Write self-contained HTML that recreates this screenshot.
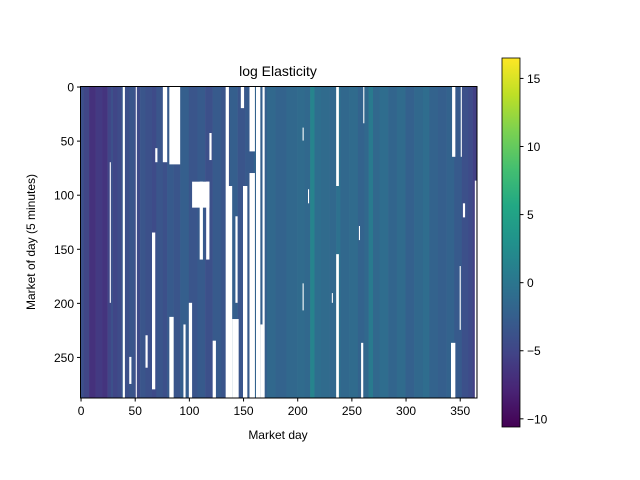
<!DOCTYPE html>
<html><head><meta charset="utf-8"><style>
body{margin:0;background:#fff;}
svg{display:block;font-family:"Liberation Sans","DejaVu Sans",sans-serif;}
</style></head><body>
<svg id="chart" width="640" height="480" xmlns="http://www.w3.org/2000/svg">
<defs>
<linearGradient id="vir" x1="0" y1="1" x2="0" y2="0">
<stop offset="0" stop-color="#440154"/><stop offset="0.1" stop-color="#482475"/><stop offset="0.2" stop-color="#414487"/><stop offset="0.3" stop-color="#355f8d"/><stop offset="0.4" stop-color="#2a788e"/><stop offset="0.5" stop-color="#21918c"/><stop offset="0.6" stop-color="#22a884"/><stop offset="0.7" stop-color="#44bf70"/><stop offset="0.8" stop-color="#7ad151"/><stop offset="0.9" stop-color="#bddf26"/><stop offset="1" stop-color="#fde725"/>
</linearGradient>
</defs>
<g id="cells"></g>
<g id="gaps"></g>
<rect x="80.5" y="86.5" width="396.5" height="311.5" fill="none" stroke="#000" stroke-width="1"/>
<g id="axes"></g>
<text x="278" y="76" font-size="14" text-anchor="middle">log Elasticity</text>
<text x="278" y="439" font-size="12" text-anchor="middle">Market day</text>
<text x="35" y="242" font-size="12" text-anchor="middle" transform="rotate(-90 35 242)">Market of day (5 minutes)</text>
<rect x="502" y="58" width="18" height="369" fill="url(#vir)" stroke="#000" stroke-width="0.8"/>
<g id="cbticks"></g>
</svg>
<script>
// column band data: start day, mean log elasticity
const bandStarts = [0,3,8,14,20,25,28,30,34,38,41,45,50,55,60,66,70,76,80,86,92,100,108,115,122,130,138,145,152,160,166,172,180,190,200,207,212,216,222,230,236,240,248,256,262,266,270,276,284,292,300,308,316,322,330,338,345,352,358,362];
const bandValues = [-4,-5,-6.8,-6,-6.5,-5,-4,-5,-4.5,-3,-4,-3.5,-4.5,-3.5,-4,-4.5,-3.5,-4,-3,-3.5,-2.5,-3.5,-3,-4,-3,-3.5,-2.5,-3.5,-3,-2,-2.5,-1.5,-2,-1.5,-1.2,-1.5,1.5,-0.8,-1.2,-1.5,-0.5,-1.5,-1.2,-2,-1.5,0.5,-1.5,-1,-1.8,-1.2,-2.2,-1.5,-1,-2,-2.5,-2,-3,-4,-4.5,-5.5];
// missing-data rectangles: [dayStart, dayEnd, rowStart, rowEnd]
const gapDays0 = [27,39,51,66,69,76,82,82,86,103,110,116,119,134,136,148,150,156,156,162,168,166,205,205,210,232,236,236,257,259,261,343,342,351,353,350,364,95,100,122,140,143,60,45];
const gapDays1 = [28,41,52,69,71,80,92,86,90,119,113,119,121,137,140,151,154,161,161,166,170,168,206,206,211,233,238.5,238.5,258,261,262,346,346,352,355,351,365.5,97,103,125,146,145,62,47];
const gapRows0 = [70,0,0,135,57,0,0,213,0,88,88,88,43,0,92,0,92,0,80,0,0,220,38,182,95,191,0,155,129,237,0,0,237,0,108,166,87,220,200,235,215,120,230,250];
const gapRows1 = [200,288,288,280,70,70,72,288,16,112,160,160,68,288,288,20,288,60,288,288,288,288,50,207,108,200,92,288,142,288,34,65,288,65,121,225,288,288,288,288,288,200,260,275];
const vmin=-10.6, vmax=16.5;
const x0=80.5, y0=86.5, W=396.5, H=311.5, nD=366, nR=288;
const xs=d=>x0+d*W/nD, ys=r=>y0+r*H/nR;
const stops=[[68,1,84],[72,36,117],[65,68,135],[53,95,141],[42,120,142],[33,145,140],[34,168,132],[68,191,112],[122,209,81],[189,223,38],[253,231,37]];
function vir(v){let t=(v-vmin)/(vmax-vmin);t=Math.max(0,Math.min(1,t))*10;const i=Math.min(9,Math.floor(t)),f=t-i;const a=stops[i],b=stops[i+1];return 'rgb('+a.map((c,k)=>Math.round(c+(b[k]-c)*f)).join(',')+')';}
const NS='http://www.w3.org/2000/svg';
const cells=document.getElementById('cells');
for(let i=0;i<bandStarts.length;i++){
  const s=bandStarts[i], e=i+1<bandStarts.length?bandStarts[i+1]:nD;
  const r=document.createElementNS(NS,'rect');
  r.setAttribute('x',xs(s));r.setAttribute('y',ys(0));
  r.setAttribute('width',xs(e)-xs(s)+0.3);r.setAttribute('height',H);
  r.setAttribute('fill',vir(bandValues[i]));
  
  
  cells.appendChild(r);
}
const gaps=document.getElementById('gaps');
for(let i=0;i<gapDays0.length;i++){
  const r=document.createElementNS(NS,'rect');
  r.setAttribute('x',xs(gapDays0[i]));r.setAttribute('y',ys(gapRows0[i]));
  r.setAttribute('width',xs(gapDays1[i])-xs(gapDays0[i]));r.setAttribute('height',ys(gapRows1[i])-ys(gapRows0[i]));
  r.setAttribute('fill','#fff');
  
  
  gaps.appendChild(r);
}
const xTicks=[0,50,100,150,200,250,300,350], yTicks=[0,50,100,150,200,250], cTicks=[15,10,5,0,-5,-10];
const axes=document.getElementById('axes');
function add(tag,attrs,txt,name){const el=document.createElementNS(NS,tag);for(const k in attrs)el.setAttribute(k,attrs[k]);if(txt!==undefined)el.textContent=txt;


axes.appendChild(el);return el;}
xTicks.forEach(t=>{const x=xs(t+0.5);add('line',{x1:x,x2:x,y1:398,y2:401.5,stroke:'#000'},undefined,'x-tick');add('text',{x:x,y:415,'font-size':12,'text-anchor':'middle'},t,'x-tick-label');});
yTicks.forEach(t=>{const y=ys(t+0.5);add('line',{x1:77,x2:80.5,y1:y,y2:y,stroke:'#000'},undefined,'y-tick');add('text',{x:74,y:y+4.5,'font-size':12,'text-anchor':'end'},t,'y-tick-label');});
const cy=v=>427-(v-vmin)/(vmax-vmin)*369;
cTicks.forEach(t=>{const y=cy(t);add('line',{x1:520,x2:523.5,y1:y,y2:y,stroke:'#000'},undefined,'colorbar-tick');add('text',{x:527,y:y+4.5,'font-size':12},t<0?'\u2212'+(-t):t,'colorbar-tick-label');});
</script>
</body></html>
